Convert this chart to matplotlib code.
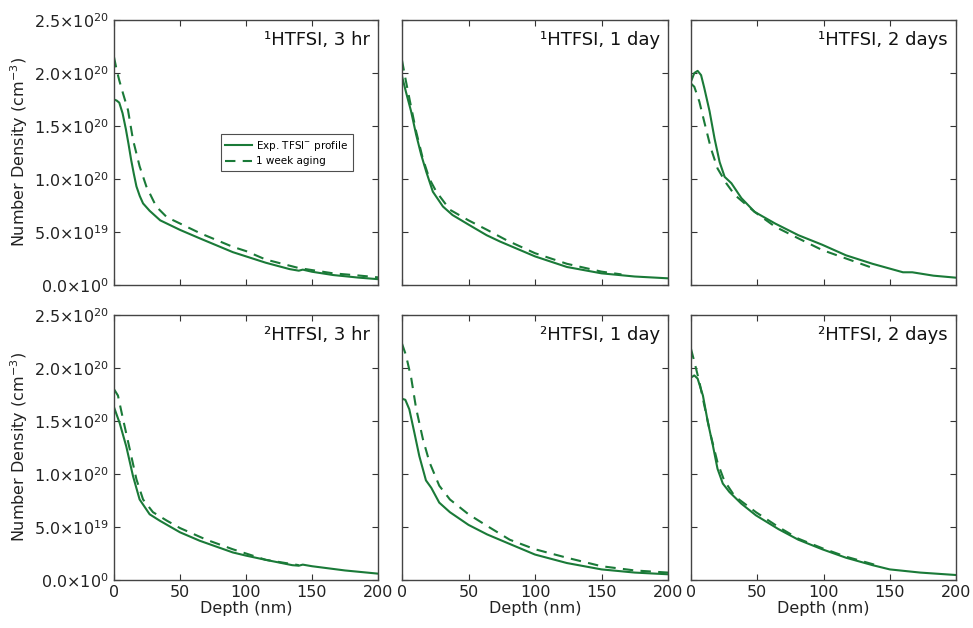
import matplotlib
matplotlib.use("Agg")
import matplotlib.pyplot as plt
from matplotlib.ticker import FuncFormatter
import numpy as np

GREEN = "#1a7a38"
SCALE = 1e20

# values (y in units of 1e20 cm^-3)
p1_exp_x = [0, 2, 4, 6.5, 9, 11, 13, 15, 17, 19.5, 22, 27, 35, 50, 65, 90, 100, 115, 133, 140, 143, 150, 166, 185, 200]
p1_exp_y = [1.75, 1.74, 1.72, 1.62, 1.47, 1.33, 1.18, 1.05, 0.93, 0.84, 0.77, 0.70, 0.61, 0.52, 0.44, 0.31, 0.27, 0.21, 0.15, 0.135, 0.145, 0.125, 0.094, 0.07, 0.055]
p1_age_x = [0, 2, 4, 7, 10.6, 14.4, 19.4, 24.5, 32, 40, 50, 65, 90, 100, 115, 140, 166, 185, 200]
p1_age_y = [2.15, 2.03, 1.93, 1.80, 1.65, 1.37, 1.12, 0.93, 0.74, 0.64, 0.58, 0.49, 0.36, 0.32, 0.24, 0.16, 0.11, 0.09, 0.072]

p2_exp_x = [0, 3, 6.8, 10.6, 14.4, 18.2, 23.2, 30.8, 38, 50, 63.6, 73.7, 100, 124, 150, 175, 200]
p2_exp_y = [1.97, 1.82, 1.64, 1.42, 1.23, 1.07, 0.88, 0.74, 0.66, 0.57, 0.47, 0.41, 0.27, 0.17, 0.11, 0.08, 0.063]
p2_age_x = [0, 1.5, 3, 7, 10.6, 15.7, 20.7, 25.8, 36, 50, 64, 79, 100, 124, 150, 165]
p2_age_y = [2.12, 2.02, 1.92, 1.67, 1.45, 1.19, 1.00, 0.88, 0.71, 0.61, 0.52, 0.42, 0.30, 0.20, 0.126, 0.10]

p3_exp_x = [0, 2.5, 5, 7.6, 10, 14, 17.8, 21.6, 25.4, 30.5, 38, 48, 63.5, 81, 99, 117, 137, 160, 167, 183, 200]
p3_exp_y = [1.92, 2.00, 2.02, 1.98, 1.86, 1.64, 1.38, 1.16, 1.02, 0.96, 0.82, 0.69, 0.58, 0.47, 0.38, 0.28, 0.20, 0.12, 0.12, 0.088, 0.069]
p3_age_x = [0, 2.5, 6.3, 10, 15, 20, 26.6, 33, 48, 63.5, 81, 99, 117, 135]
p3_age_y = [1.90, 1.87, 1.73, 1.54, 1.29, 1.10, 0.96, 0.85, 0.69, 0.55, 0.44, 0.33, 0.25, 0.17]

p4_exp_x = [0, 4.3, 9.3, 14.4, 19.4, 27, 34.6, 50, 65, 90, 100, 115, 135, 140, 143, 150, 175, 200]
p4_exp_y = [1.63, 1.48, 1.26, 0.98, 0.76, 0.62, 0.56, 0.45, 0.37, 0.26, 0.23, 0.19, 0.14, 0.135, 0.145, 0.13, 0.09, 0.06]
p4_age_x = [0, 3, 6.8, 12, 17, 22, 29.5, 40, 50, 70, 90, 115, 140]
p4_age_y = [1.80, 1.74, 1.52, 1.23, 0.95, 0.76, 0.64, 0.56, 0.49, 0.38, 0.29, 0.19, 0.14]

p5_exp_x = [0, 2.5, 5.5, 9.3, 13, 18, 22, 28, 36, 50, 64, 81, 100, 124, 150, 175, 200]
p5_exp_y = [1.71, 1.70, 1.61, 1.39, 1.17, 0.94, 0.87, 0.73, 0.64, 0.52, 0.43, 0.34, 0.24, 0.16, 0.10, 0.07, 0.054]
p5_age_x = [0, 3, 7, 10.6, 15.7, 20.7, 28, 36, 50, 64, 81, 100, 124, 150, 175, 200]
p5_age_y = [2.23, 2.12, 1.90, 1.62, 1.33, 1.11, 0.89, 0.76, 0.62, 0.51, 0.38, 0.29, 0.21, 0.13, 0.09, 0.07]

p6_exp_x = [0, 2.5, 5, 9, 12.7, 16.5, 20, 24, 29, 38, 49, 66, 81, 99, 117, 137, 150, 173, 200]
p6_exp_y = [1.91, 1.93, 1.90, 1.74, 1.49, 1.27, 1.05, 0.91, 0.83, 0.72, 0.61, 0.48, 0.38, 0.29, 0.21, 0.14, 0.10, 0.07, 0.047]
p6_age_x = [0, 2.5, 6.3, 10, 15, 20, 25, 33, 49, 66, 81, 99, 117, 137, 142]
p6_age_y = [2.18, 2.06, 1.87, 1.65, 1.36, 1.11, 0.94, 0.79, 0.64, 0.50, 0.39, 0.30, 0.22, 0.15, 0.13]

titles = ["¹HTFSI, 3 hr", "¹HTFSI, 1 day", "¹HTFSI, 2 days",
          "²HTFSI, 3 hr", "²HTFSI, 1 day", "²HTFSI, 2 days"]
panels = [
    (p1_exp_x, p1_exp_y, p1_age_x, p1_age_y),
    (p2_exp_x, p2_exp_y, p2_age_x, p2_age_y),
    (p3_exp_x, p3_exp_y, p3_age_x, p3_age_y),
    (p4_exp_x, p4_exp_y, p4_age_x, p4_age_y),
    (p5_exp_x, p5_exp_y, p5_age_x, p5_age_y),
    (p6_exp_x, p6_exp_y, p6_age_x, p6_age_y),
]


def sci_fmt(v, pos):
    if v == 0:
        return r"0.0$\times$10$^{0}$"
    e = int(np.floor(np.log10(abs(v)) + 1e-9))
    m = v / 10**e
    return r"%.1f$\times$10$^{%d}$" % (m, e)


plt.rcParams["font.family"] = "DejaVu Sans"
plt.rcParams["mathtext.fontset"] = "dejavusans"

fig = plt.figure(figsize=(9.73, 6.28), dpi=100)

lefts = [114 / 973, 402 / 973, 691 / 973]
widths = [264 / 973, 266 / 973, 265 / 973]
bottoms = [1 - 285 / 628, 1 - 580 / 628]
height = 265 / 628

for i, (ex, ey, ax_, ay) in enumerate(panels):
    row, col = divmod(i, 3)
    ax = fig.add_axes([lefts[col], bottoms[row], widths[col], height])
    ax.plot(ex, np.array(ey) * SCALE, color=GREEN, lw=1.5, label="Exp. TFSI$^{-}$ profile")
    ax.plot(ax_, np.array(ay) * SCALE, color=GREEN, lw=1.5, ls=(0, (5, 3.5)), label="1 week aging")
    ax.set_xlim(0, 200)
    ax.set_ylim(0, 2.5e20)
    ax.set_xticks([0, 50, 100, 150, 200])
    ax.set_yticks(np.arange(0, 2.51e20, 0.5e20))
    ax.tick_params(direction="in", top=True, right=True, length=4, width=0.8,
                   labelsize=11.5, colors="#333333", labelcolor="#222222")
    for s in ax.spines.values():
        s.set_color("#444444")
        s.set_linewidth(1.0)
    ax.yaxis.set_major_formatter(FuncFormatter(sci_fmt))
    ax.text(0.97, 0.925, titles[i], transform=ax.transAxes, ha="right", va="center",
            fontsize=13, color="#111111")
    if row == 0:
        ax.tick_params(labelbottom=False)
    else:
        ax.set_xlabel("Depth (nm)", fontsize=11.5, color="#222222", labelpad=1)
    if col == 0:
        ax.set_ylabel("Number Density (cm$^{-3}$)", fontsize=11.5, color="#222222", labelpad=3)
    else:
        ax.tick_params(labelleft=False)
    if i == 0:
        leg = ax.legend(loc="center", bbox_to_anchor=(0.655, 0.50), fontsize=7.5,
                        frameon=True, fancybox=False, edgecolor="#222222",
                        handlelength=2.6, handletextpad=0.4, borderpad=0.45, labelspacing=0.35)
        leg.get_frame().set_linewidth(0.8)

fig.savefig("out.png", dpi=100)
